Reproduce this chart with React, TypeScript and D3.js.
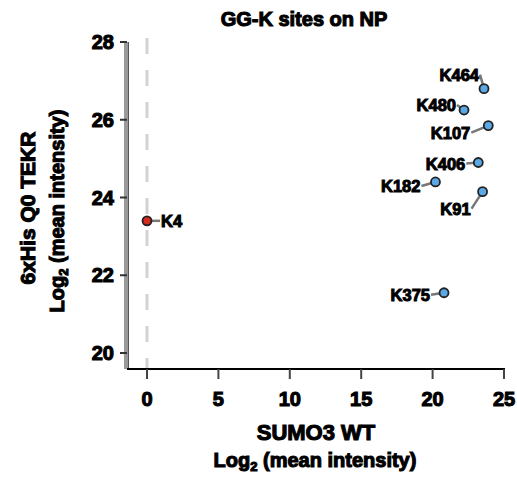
import React from 'react';
import * as d3 from 'd3';

const title = 'GG-K sites on NP';
const xLabel1 = 'SUMO3 WT';
const yLabel1 = '6xHis Q0 TEKR';
const xTicks = [0, 5, 10, 15, 20, 25];
const yTicks = [20, 22, 24, 26, 28];

const siteNames = ['K4', 'K464', 'K480', 'K107', 'K406', 'K182', 'K91', 'K375'];
const wtValues = [0, 23.6, 22.2, 23.9, 23.2, 20.2, 23.5, 20.8];
const q0Values = [23.4, 26.8, 26.25, 25.85, 24.9, 24.4, 24.15, 21.55];
// label offsets in px from the point
const labelDx = [13, -4, -7, -17, -12, -14, -11, -13];
const labelDy = [0, -14, -5, 7, 1, 4, 17, 2];

const W = 517;
const H = 479;
const font = '"Liberation Sans", Arial, sans-serif';

const heavy = { fontFamily: font, fontWeight: 'bold' as const, stroke: '#000', strokeWidth: 1.1, fill: '#000' };

export default function App() {
  const x = d3.scaleLinear().domain([0, 25]).range([147, 504]);
  const y = d3.scaleLinear().domain([20, 28]).range([353, 42]);
  const axisY = 369;
  const axisX = 127;

  return (
    <svg width={W} height={H} style={{ position: 'absolute', left: 0, top: 0 }}>
      <rect width={W} height={H} fill="white" />
      <text x={304} y={26} textAnchor="middle" fontSize={20} {...heavy}>{title}</text>

      {/* zero line */}
      <line x1={x(0)} x2={x(0)} y1={38} y2={axisY} stroke="#d2d2d2" strokeWidth={3} strokeDasharray="16,16" />

      {/* y axis */}
      <line x1={axisX - 1} x2={axisX - 1} y1={y(28)} y2={axisY} stroke="#9a9a9a" strokeWidth={4} />
      <line x1={axisX + 1.5} x2={axisX + 1.5} y1={y(28)} y2={axisY} stroke="#555" strokeWidth={1} />
      {yTicks.map(t => (
        <g key={t}>
          <line x1={axisX - 7} x2={axisX} y1={y(t)} y2={y(t)} stroke="#333" strokeWidth={2} />
          <text x={axisX - 13} y={y(t) + 7} textAnchor="end" fontSize={20} {...heavy}>{t}</text>
        </g>
      ))}

      {/* x axis */}
      <line x1={axisX} x2={x(25) + 1} y1={axisY} y2={axisY} stroke="#000" strokeWidth={2} />
      {xTicks.map(t => (
        <g key={t}>
          <line x1={x(t)} x2={x(t)} y1={axisY} y2={axisY + 10} stroke="#444" strokeWidth={2} />
          <text x={x(t)} y={axisY + 37} textAnchor="middle" fontSize={20} {...heavy}>{t}</text>
        </g>
      ))}

      <text x={316} y={440} textAnchor="middle" fontSize={22} {...heavy}>{xLabel1}</text>
      <text x={315} y={467} textAnchor="middle" fontSize={20} {...heavy}>
        Log<tspan fontSize={13} dy={4}>2</tspan><tspan dy={-4}> (mean intensity)</tspan>
      </text>

      <g transform={`translate(35,208) rotate(-90)`}>
        <text textAnchor="middle" fontSize={21} {...heavy}>{yLabel1}</text>
      </g>
      <g transform={`translate(64,211) rotate(-90)`}>
        <text textAnchor="middle" fontSize={20} {...heavy}>
          Log<tspan fontSize={13} dy={4}>2</tspan><tspan dy={-4}> (mean intensity)</tspan>
        </text>
      </g>

      {/* points and labels */}
      {siteNames.map((name, i) => {
        const px = x(wtValues[i]);
        const py = y(q0Values[i]);
        const lx = px + labelDx[i];
        const ly = py + labelDy[i];
        const left = labelDx[i] < 0;
        return (
          <g key={name}>
            <line x1={px} y1={py} x2={lx} y2={ly} stroke="#777" strokeWidth={2.5} />
            <text x={left ? lx - 1 : lx + 1} y={ly + 6} textAnchor={left ? 'end' : 'start'}
              fontSize={16.5} {...heavy} strokeWidth={1}>{name}</text>
            <circle cx={px} cy={py} r={4.5} fill={i === 0 ? '#d62a1e' : '#5aa9e6'} stroke="#222" strokeWidth={1.8} />
          </g>
        );
      })}
    </svg>
  );
}
